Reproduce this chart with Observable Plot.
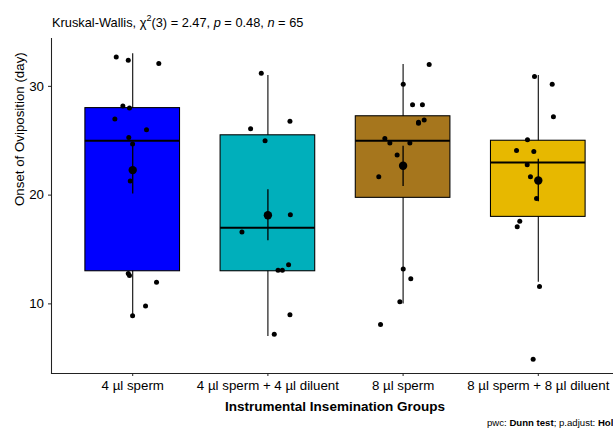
<!DOCTYPE html>
<html>
<head>
<meta charset="utf-8">
<script src="https://cdn.jsdelivr.net/npm/d3@7"></script>
<script src="https://cdn.jsdelivr.net/npm/@observablehq/plot@0.6"></script>
<style>
  html, body { margin: 0; padding: 0; background: #fff; overflow: hidden; }
  #chart { position: relative; width: 613px; height: 428px; }
</style>
</head>
<body>
<div id="chart"></div>
<script>
// ---- data ----
const groups = ["4 µl sperm", "4 µl sperm + 4 µl diluent", "8 µl sperm", "8 µl sperm + 8 µl diluent"];

const boxQ1 = [13, 13, 19.75, 18];
const boxMedian = [25, 17, 25, 23];
const boxQ3 = [28, 25.5, 27.25, 25];
const whiskerLow = [9, 7, 10, 12];
const whiskerHigh = [33, 31, 32, 31];

const groupMean = [22.3, 18.15, 22.7, 21.35];
const meanLow = [20.1, 15.8, 20.8, 19.4];
const meanHigh = [24.6, 20.5, 24.5, 23.3];

// jittered observations: value and horizontal jitter (in category units)
const g1Values = [32.7, 32.4, 32.1, 28.2, 28.0, 27.0, 26.0, 25.3, 24.7, 21.3, 12.8, 12.6, 12.0, 9.8, 8.9];
const g1Jitter = [-0.122, -0.033, 0.193, -0.073, -0.024, -0.132, 0.102, -0.029, -0.001, -0.018, -0.033, -0.024, 0.176, 0.095, -0.001];
const g2Values = [31.2, 26.1, 26.8, 25.0, 18.2, 16.6, 13.6, 13.1, 13.1, 9.0, 7.2];
const g2Jitter = [-0.049, -0.128, 0.163, -0.021, 0.166, -0.192, 0.153, 0.075, 0.107, 0.163, 0.047];
const g3Values = [32.0, 30.2, 28.3, 28.3, 26.9, 26.7, 26.6, 25.2, 24.8, 24.8, 23.7, 21.7, 13.2, 12.3, 10.2, 8.1];
const g3Jitter = [0.193, 0.001, 0.070, 0.143, 0.156, 0.114, 0.114, -0.135, -0.098, 0.050, -0.044, -0.180, 0.001, 0.057, -0.024, -0.167];
const g4Values = [30.9, 30.2, 27.2, 25.1, 24.1, 24.0, 22.8, 21.7, 19.7, 17.6, 17.1, 11.6, 4.9];
const g4Jitter = [-0.028, 0.103, 0.112, -0.080, -0.161, -0.033, -0.082, -0.058, -0.013, -0.137, -0.156, 0.009, -0.038];

const yTicks = [10, 20, 30];

// ---- styles ----
const palette = ["#0000FF", "#00AFBB", "#A6761D", "#E7B800"];
const halfBox = 0.35;
const font = "'Liberation Sans', Arial, Helvetica, sans-serif";

// ---- build tables ----
const boxes = groups.map((g, k) => ({
  pos: k + 1, group: g,
  q1: boxQ1[k], median: boxMedian[k], q3: boxQ3[k],
  lo: whiskerLow[k], hi: whiskerHigh[k],
  mean: groupMean[k], meanLo: meanLow[k], meanHi: meanHigh[k]
}));
const points = [];
[[g1Values, g1Jitter], [g2Values, g2Jitter], [g3Values, g3Jitter], [g4Values, g4Jitter]].forEach(([vals, jit], k) => {
  vals.forEach((v, j) => points.push({pos: k + 1, dx: jit[j], value: v}));
});

const plot = Plot.plot({
  width: 613,
  height: 428,
  marginTop: 38,
  marginBottom: 55,
  marginLeft: 51,
  marginRight: 0,
  style: {fontFamily: font, fontSize: "13.3px", color: "black", background: "white", overflow: "hidden"},
  x: {domain: [0.4, 4.6], range: [51.1, 618.9]},
  y: {domain: [3.6, 34.4]},
  color: {domain: groups, range: palette},
  marks: [
    Plot.ruleX(boxes, {x: "pos", y1: "lo", y2: "hi", stroke: "black", strokeWidth: 1.07}),
    Plot.rect(boxes, {x1: d => d.pos - halfBox, x2: d => d.pos + halfBox, y1: "q1", y2: "q3", fill: "group", stroke: "black", strokeWidth: 1.07}),
    Plot.ruleY(boxes, {y: "median", x1: d => d.pos - halfBox, x2: d => d.pos + halfBox, stroke: "black", strokeWidth: 2.2}),
    Plot.dot(points, {x: d => d.pos + d.dx, y: "value", r: 2.5, fill: "black", stroke: "none"}),
    Plot.ruleX(boxes, {x: "pos", y1: "meanLo", y2: "meanHi", stroke: "black", strokeWidth: 1.3}),
    Plot.dot(boxes, {x: "pos", y: "mean", r: 4.2, fill: "black", stroke: "none"}),
    Plot.frame({anchor: "left", stroke: "#222", strokeWidth: 1.07}),
    Plot.frame({anchor: "bottom", stroke: "#222", strokeWidth: 1.07}),
    Plot.axisY({ticks: yTicks, tickSize: 3, tickPadding: 4.5, label: null, fontSize: 13.3, stroke: "#222"}),
    Plot.axisX({ticks: [1, 2, 3, 4], tickFormat: d => groups[d - 1], tickSize: 3, tickPadding: 4, label: null, fontSize: 13.3, stroke: "#222"}),
    Plot.text(["Onset of Oviposition (day)"], {text: d => d, frameAnchor: "left", rotate: -90, dx: -28, lineAnchor: "bottom", fontSize: 13.3, fill: "black"}),
    Plot.text(["Instrumental Insemination Groups"], {text: d => d, frameAnchor: "bottom", dx: 2.5, dy: 37, lineAnchor: "bottom", fontSize: 13.5, fontWeight: "bold", fill: "black"})
  ]
});
document.getElementById("chart").appendChild(plot);

// title and caption as rich SVG text
const svg = d3.select(plot);
const title = svg.append("text").attr("x", 52).attr("y", 26.7)
  .attr("text-anchor", "start")
  .attr("font-size", 12.8).attr("fill", "black").attr("font-family", font);
title.append("tspan").text("Kruskal-Wallis, χ");
title.append("tspan").attr("font-size", 9).attr("dy", -5.5).text("2");
title.append("tspan").attr("dy", 5.5).text("(3) = 2.47, ");
title.append("tspan").attr("font-style", "italic").text("p");
title.append("tspan").text(" = 0.48, ");
title.append("tspan").attr("font-style", "italic").text("n");
title.append("tspan").text(" = 65");

const caption = svg.append("text").attr("x", 487).attr("y", 425.5)
  .attr("text-anchor", "start")
  .attr("font-size", 9.6).attr("fill", "black").attr("font-family", font);
caption.append("tspan").text("pwc: ");
caption.append("tspan").attr("font-weight", "bold").text("Dunn test");
caption.append("tspan").text("; p.adjust: ");
caption.append("tspan").attr("font-weight", "bold").text("Holm");
</script>
</body>
</html>
